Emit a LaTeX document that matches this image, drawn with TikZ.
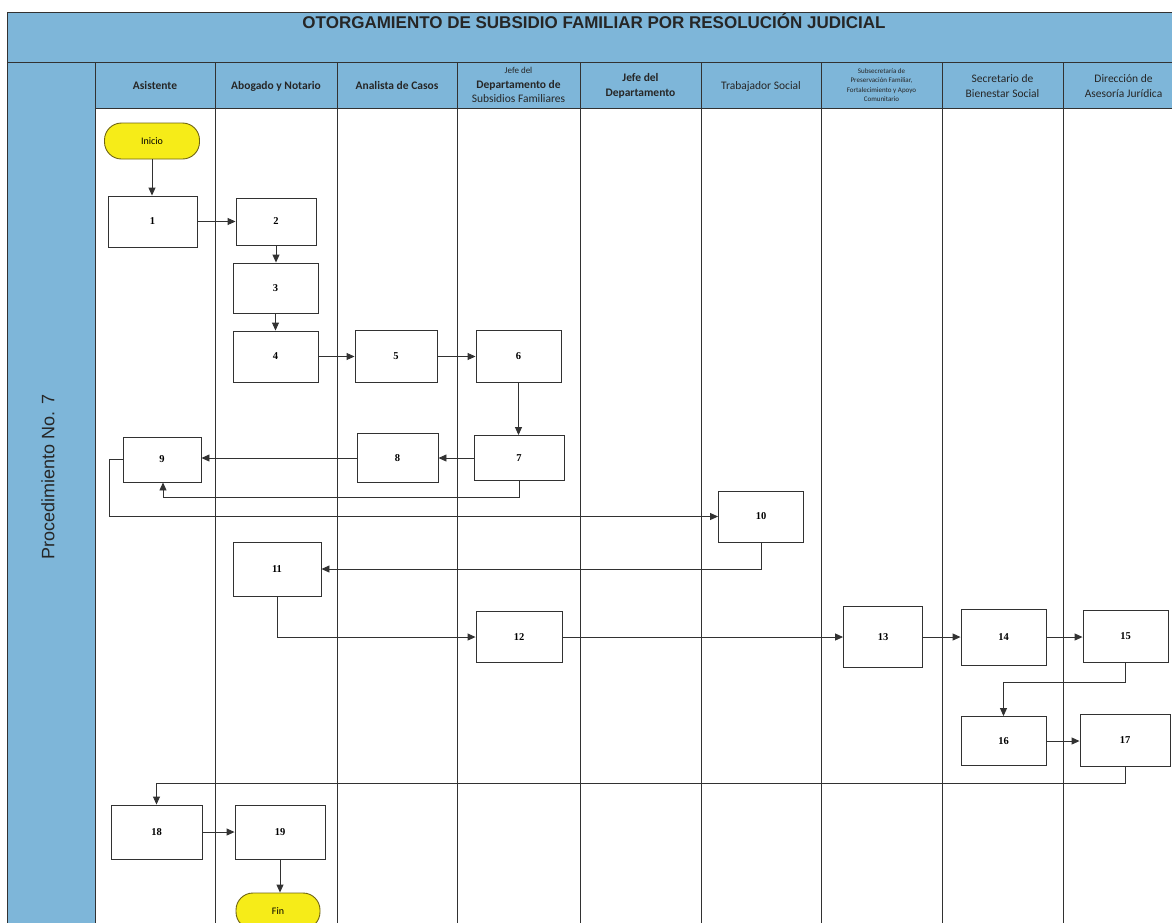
\documentclass[tikz,border=0pt]{standalone}
\usepackage{fontspec}
\setmainfont{Liberation Sans}
\newfontfamily\calfont{Carlito}
\newfontfamily\numfont{Liberation Serif}
\usetikzlibrary{arrows.meta}

\definecolor{laneblue}{RGB}{126,182,217}
\definecolor{rule}{RGB}{50,50,50}
\definecolor{termyellow}{RGB}{246,236,24}
\definecolor{termedge}{RGB}{110,100,20}

\begin{document}
\begin{tikzpicture}[x=1pt,y=-1pt,
  stepbox/.style={draw=rule, fill=white, line width=0.9pt, inner sep=0pt,
    font=\numfont\bfseries\fontsize{10.5}{12}\selectfont},
  term/.style={draw=termedge, fill=termyellow, line width=0.9pt, inner sep=0pt,
    rounded corners=17pt, minimum width=95pt, minimum height=36pt,
    font=\calfont\fontsize{10}{12}\selectfont},
  hdr/.style={align=center, inner sep=0pt, text=black!85,
    font=\calfont\fontsize{11.5}{14.5}\selectfont},
  hdrb/.style={hdr, font=\calfont\bfseries\fontsize{11.5}{14.5}\selectfont},
  flow/.style={draw=rule, line width=0.9pt, -{Triangle[length=8pt,width=7pt]}},
  lane/.style={draw=rule, line width=0.8pt}]

\useasboundingbox (0,0) rectangle (1172,922);
\clip (0,0) rectangle (1172,922);

% title band, lane header row and procedure column
\fill[laneblue] (7,12) rectangle (1190,108);
\fill[laneblue] (7,12) rectangle (95,930);
\draw[lane] (7,930) -- (7,12) -- (1190,12);
\draw[lane] (7,62) -- (1190,62);
\draw[lane] (95,108) -- (1190,108);
\foreach \x in {95,215,337,457,580,701,821,942,1063}
  \draw[lane] (\x,62) -- (\x,930);

\node[font=\bfseries\fontsize{17}{20}\selectfont, text=black!85] (title) at (594,21)
  {OTORGAMIENTO DE SUBSIDIO FAMILIAR POR RESOLUCIÓN JUDICIAL};
\node[rotate=90, font=\fontsize{18}{21}\selectfont, text=black!85] (proc) at (48,477)
  {Procedimiento No. 7};

% lane headers
\node[hdrb] (hA) at (155,86) {Asistente};
\node[hdrb] (hB) at (276,86) {Abogado y Notario};
\node[hdrb] (hC) at (397,86) {Analista de Casos};
\node[hdr]  (hD) at (518.5,85) {{\fontsize{9}{12}\selectfont Jefe del}\\\textbf{Departamento de}\\Subsidios Familiares};
\node[hdrb] (hE) at (640.5,86) {Jefe del\\Departamento};
\node[hdr]  (hF) at (761,86) {Trabajador Social};
\node[hdr, font=\calfont\fontsize{7}{9.5}\selectfont] (hG) at (881.5,85)
  {Subsecretaría de\\Preservación Familiar,\\Fortalecimiento y Apoyo\\Comunitario};
\node[hdr]  (hH) at (1002.5,86) {Secretario de\\Bienestar Social};
\node[hdr]  (hI) at (1123.5,86) {Dirección de\\Asesoría Jurídica};

% process steps
\node[term] (ini) at (152,141) {Inicio};
\node[stepbox, minimum width=89pt, minimum height=51pt] (n1)  at (152.5,221.5) {1};
\node[stepbox, minimum width=80pt, minimum height=47pt] (n2)  at (276,221.5) {2};
\node[stepbox, minimum width=85pt, minimum height=50pt] (n3)  at (275.5,288) {3};
\node[stepbox, minimum width=85pt, minimum height=51pt] (n4)  at (275.5,356.5) {4};
\node[stepbox, minimum width=82pt, minimum height=52pt] (n5)  at (396,356.5) {5};
\node[stepbox, minimum width=85pt, minimum height=52pt] (n6)  at (518.5,356.5) {6};
\node[stepbox, minimum width=90pt, minimum height=45pt] (n7)  at (519,458) {7};
\node[stepbox, minimum width=81pt, minimum height=49pt] (n8)  at (397.5,458) {8};
\node[stepbox, minimum width=78pt, minimum height=45pt] (n9)  at (162,459.5) {9};
\node[stepbox, minimum width=85pt, minimum height=51pt] (n10) at (761,516.5) {10};
\node[stepbox, minimum width=88pt, minimum height=54pt] (n11) at (277,569) {11};
\node[stepbox, minimum width=86pt, minimum height=51pt] (n12) at (519,637) {12};
\node[stepbox, minimum width=79pt, minimum height=61pt] (n13) at (883,637) {13};
\node[stepbox, minimum width=85pt, minimum height=56pt] (n14) at (1003.5,637) {14};
\node[stepbox, minimum width=85pt, minimum height=52pt] (n15) at (1125.5,636) {15};
\node[stepbox, minimum width=85pt, minimum height=49pt] (n16) at (1003.5,741) {16};
\node[stepbox, minimum width=90pt, minimum height=52pt] (n17) at (1125,740) {17};
\node[stepbox, minimum width=91pt, minimum height=54pt] (n18) at (156.5,832) {18};
\node[stepbox, minimum width=90pt, minimum height=54pt] (n19) at (280,832) {19};
\node[term, minimum width=84pt] (fin) at (278,911) {Fin};

% connectors
\draw[flow] (ini.south) -- (ini.south |- n1.north);
\draw[flow] (n1) -- (n2);
\draw[flow] (n2.south) -- (n2.south |- n3.north);
\draw[flow] (n3.south) -- (n3.south |- n4.north);
\draw[flow] (n4) -- (n5);
\draw[flow] (n5) -- (n6);
\draw[flow] (n6.south) -- (n6.south |- n7.north);
\draw[flow] (n7) -- (n8);
\draw[flow] (n8.west) -- (n9.east |- n8.west);
\draw[flow] (n7.south) -- ++(0,16) -| ([xshift=1pt]n9.south);
\draw[flow] (n9.west) -- ++(-13,0) |- (n10.west);
\draw[flow] (n10.south) |- (n11.east);
\draw[flow] (n11.south) |- (n12.west);
\draw[flow] (n12) -- (n13);
\draw[flow] (n13) -- (n14);
\draw[flow] (n14.east) -- (n15.west |- n14.east);
\draw[flow] (n15.south) -- ++(0,20) -| (n16.north);
\draw[flow] (n16.east) -- (n17.west |- n16.east);
\draw[flow] (n17.south) -- ++(0,17) -| (n18.north);
\draw[flow] (n18) -- (n19);
\draw[flow] (n19.south) -- (n19.south |- fin.north);
\end{tikzpicture}
\end{document}
